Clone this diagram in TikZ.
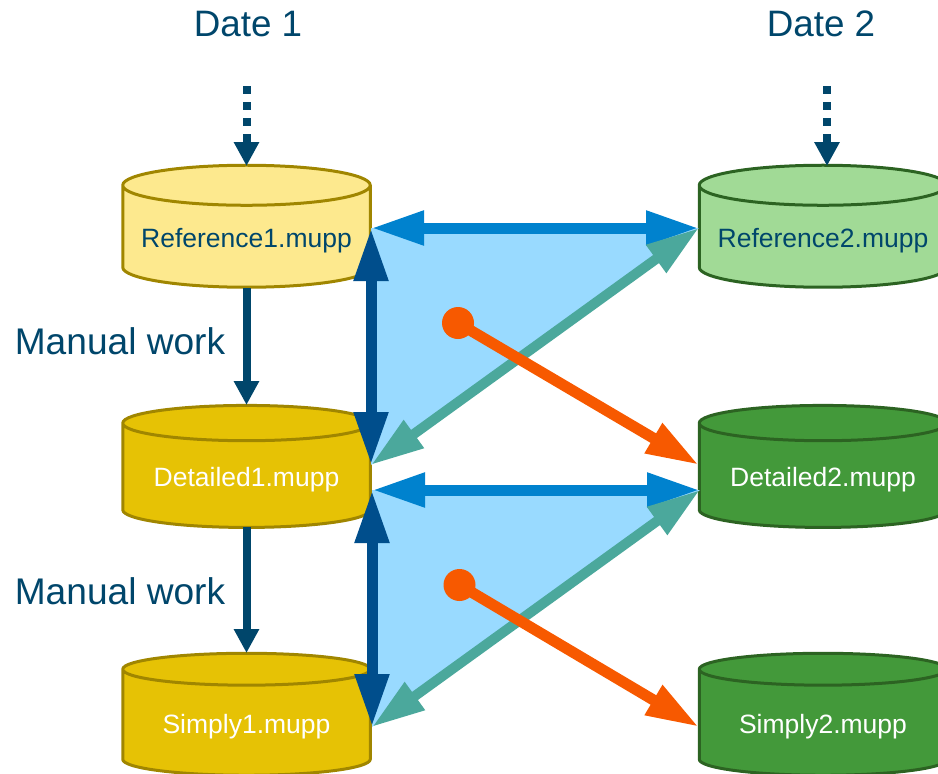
\documentclass[tikz,border=0pt]{standalone}
\usepackage{fontspec}
\setmainfont{Liberation Sans}
\usetikzlibrary{shapes.geometric,arrows.meta}
\definecolor{inkblue}{HTML}{00466B}
\definecolor{deepblue}{HTML}{004E8C}
\definecolor{midblue}{HTML}{0082CE}
\definecolor{paleblue}{HTML}{99DAFF}
\definecolor{tealc}{HTML}{4BA89C}
\definecolor{orangec}{HTML}{F75900}
\definecolor{lightyellow}{HTML}{FDE98E}
\definecolor{darkyellow}{HTML}{E6C205}
\definecolor{yellowedge}{HTML}{A08600}
\definecolor{lightgreen}{HTML}{A1DA96}
\definecolor{darkgreen}{HTML}{43993A}
\definecolor{greenedge}{HTML}{2C6322}
\tikzset{
  x=1pt,y=-1pt,
  db/.style={cylinder,shape border rotate=90,draw,line width=3pt,
    minimum width=247.5pt,minimum height=122pt,aspect=0.19,outer sep=0pt,inner sep=0pt,
    text height=27pt,text depth=6pt,
    cylinder uses custom fill,font=\fontsize{26.5pt}{30pt}\selectfont},
  dbly/.style={db,cylinder body fill=lightyellow,cylinder end fill=lightyellow,draw=yellowedge,text=inkblue},
  dbdy/.style={db,cylinder body fill=darkyellow,cylinder end fill=darkyellow,draw=yellowedge,text=white},
  dblg/.style={db,cylinder body fill=lightgreen,cylinder end fill=lightgreen,draw=greenedge,text=inkblue},
  dbdg/.style={db,cylinder body fill=darkgreen,cylinder end fill=darkgreen,draw=greenedge,text=white},
  bigtext/.style={text=inkblue,font=\fontsize{36.8pt}{40pt}\selectfont,inner sep=0pt},
  sidetext/.style={bigtext,font=\fontsize{37.1pt}{40pt}\selectfont},
  flow/.style={draw=inkblue,line width=8pt,-{Triangle[length=24pt,width=24pt]}},
  dotflow/.style={flow,dash pattern=on 8pt off 8pt},
  bigarrow/.style={line width=11pt,{Triangle[length=53pt,width=32pt]}-{Triangle[length=53pt,width=32pt]}},
  horiz/.style={bigarrow,draw=midblue},
  vert/.style={bigarrow,draw=deepblue},
  diag/.style={bigarrow,draw=tealc,line width=10pt},
  spot/.style={draw=orangec,line width=11pt,-{Triangle[length=53pt,width=32pt]}},
  dotnode/.style={circle,fill=orangec,minimum size=32pt,inner sep=0pt,outer sep=0pt},
}
\begin{document}
\begin{tikzpicture}
\useasboundingbox (0,0) rectangle (938,774);
% titles
\node[bigtext] (d1) at (248,24) {Date 1};
\node[bigtext] (d2) at (821,24) {Date 2};
\node[sidetext] (m1) at (120,341) {Manual work};
\node[sidetext] (m2) at (120,591) {Manual work};
% databases
\node[dbly] (r1) at (246.5,237) {Reference1.mupp};
\node[dbdy] (t1) at (246.5,476) {Detailed1.mupp};
\node[dbdy] (s1) at (246.5,723) {Simply1.mupp};
\node[dblg] (r2) at (823,237) {Reference2.mupp};
\node[dbdg] (t2) at (823,476) {Detailed2.mupp};
\node[dbdg] (s2) at (823,723) {Simply2.mupp};
% free ends
\coordinate (in1) at (246.5,86);
\coordinate (in2) at (827,86);
\coordinate (r1top) at (246.5,166);
\coordinate (r2top) at (827,166);
\coordinate (r1bot) at (246.5,288);
\coordinate (t1top) at (246.5,405);
\coordinate (t1bot) at (246.5,527);
\coordinate (s1top) at (246.5,653);
\coordinate (a1) at (371,228);
\coordinate (b1) at (699,228);
\coordinate (c1) at (371,465);
\coordinate (e1) at (699,465);
\coordinate (a2) at (372,490);
\coordinate (b2) at (700,490);
\coordinate (c2) at (372,727);
\coordinate (e2) at (699,727);
% shaded triangles
\fill[paleblue] (a1) -- (b1) -- (c1) -- cycle;
\fill[paleblue] (a2) -- (b2) -- (c2) -- cycle;
% flows
\draw[dotflow] (in1) -- (r1top);
\draw[dotflow] (in2) -- (r2top);
\draw[flow] (r1bot) -- (t1top);
\draw[flow] (t1bot) -- (s1top);
% relation arrows, upper
\draw[horiz] (a1) -- (b1);
\draw[diag] (c1) -- (b1);
\draw[vert] (a1) -- (c1);
\node[dotnode] (o1) at (458,323) {};
\draw[spot] (o1.center) -- (e1);
% relation arrows, lower
\draw[horiz] (a2) -- (b2);
\draw[diag] (c2) -- (b2);
\draw[vert] (a2) -- (c2);
\node[dotnode] (o2) at (459.5,585) {};
\draw[spot] (o2.center) -- (e2);
\end{tikzpicture}
\end{document}
